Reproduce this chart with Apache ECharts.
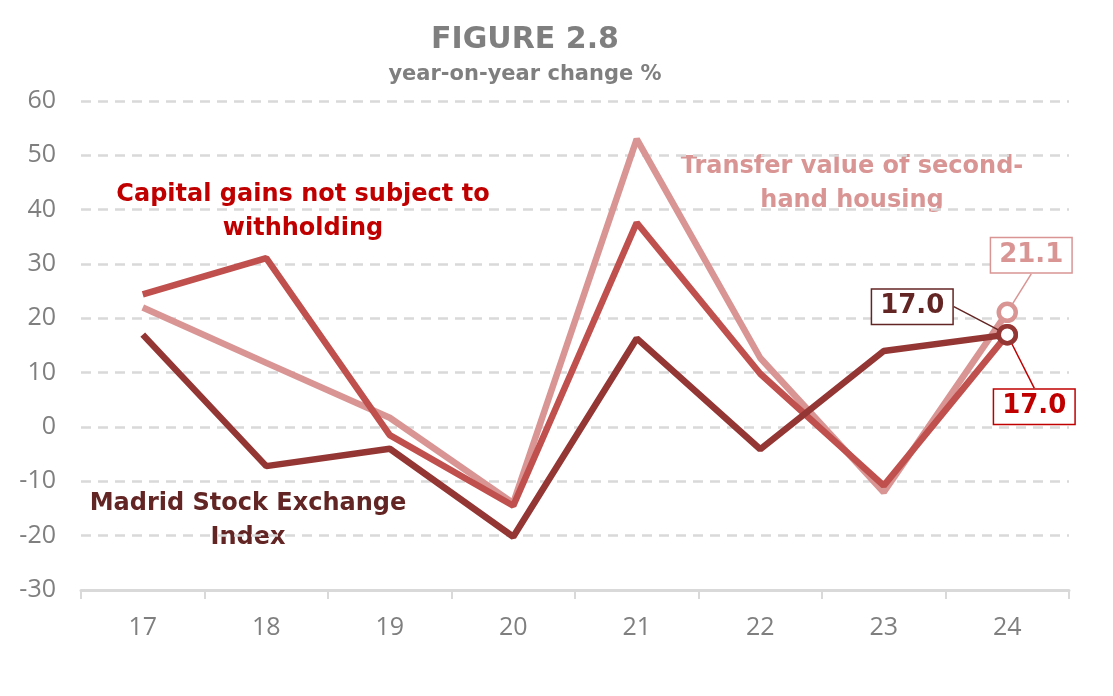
<!DOCTYPE html>
<html><head><meta charset="utf-8">
<script src="https://cdn.jsdelivr.net/npm/echarts@6/dist/echarts.min.js"></script>
<style>html,body{margin:0;padding:0;background:#fff}#c{width:1113px;height:696px}</style>
</head><body><div id="c"></div>
<script>
const categories = ['17','18','19','20','21','22','23','24'];
const madrid = [17.0, -7.2, -4.0, -20.2, 16.3, -4.1, 14.0, 17.0];
const capitalGains = [24.4, 31.1, -1.5, -14.5, 37.6, 9.8, -10.8, 17.0];
const housing = [22.0, 11.8, 1.7, -14.0, 53.0, 12.7, -12.0, 21.1];
const yTicks = {min: -30, max: 60, interval: 10};

const cDark = '#943634', cMid = '#c0504d', cLight = '#d99594';
const font = 'DejaVu Sans, Verdana, sans-serif';
const tickFont = '"Open Sans", "DejaVu Sans", sans-serif';

function lastOnly(arr, color, labelColor) {
  return arr.map((v, i) => {
    if (i !== arr.length - 1) return {value: v, symbol: 'none', label: {show: false}};
    return {
      value: v,
      symbol: 'circle', symbolSize: 17,
      itemStyle: {color: '#fff', borderColor: color, borderWidth: 4.5},
      label: {
        show: true, position: 'inside', formatter: v.toFixed(1), color: labelColor,
        fontFamily: font, fontWeight: 'bold', fontSize: 26,
        backgroundColor: '#fff', borderColor: labelColor, borderWidth: 1.5,
        padding: [5, 8, 3, 8]
      }
    };
  });
}

function mkSeries(name, data, color, labelColor, dx, dy, z) {
  return {
    name, type: 'line', data: lastOnly(data, color, labelColor),
    showAllSymbol: true, z,
    lineStyle: {color, width: 6.5}, itemStyle: {color},
    labelLayout: {dx, dy, hideOverlap: false},
    labelLine: {show: true, lineStyle: {color: labelColor, width: 1.5}}
  };
}

const chart = echarts.init(document.getElementById('c'));
chart.setOption({
  animation: false,
  title: [
    {text: 'FIGURE 2.8', left: 520, top: 20, textAlign: 'center',
     textStyle: {fontFamily: font, fontWeight: 'bold', fontSize: 30, color: '#7f7f7f'}},
    {text: 'year-on-year change %', left: 520, top: 59, textAlign: 'center',
     textStyle: {fontFamily: font, fontWeight: 'bold', fontSize: 21, color: '#7f7f7f'}}
  ],
  grid: {left: 81, right: 44, top: 101, bottom: 106},
  xAxis: {
    type: 'category', data: categories, boundaryGap: true,
    axisLine: {onZero: false, lineStyle: {color: '#d9d9d9', width: 3}},
    axisTick: {show: true, length: 9, lineStyle: {color: '#d9d9d9', width: 2}},
    axisLabel: {color: '#7f7f7f', fontFamily: tickFont, fontSize: 25, margin: 25}
  },
  yAxis: {
    type: 'value', min: yTicks.min, max: yTicks.max, interval: yTicks.interval,
    axisLine: {show: false}, axisTick: {show: false},
    axisLabel: {color: '#7f7f7f', fontFamily: tickFont, fontSize: 25, margin: 25},
    splitLine: {lineStyle: {color: '#d9d9d9', width: 2.5, type: [10, 7]}}
  },
  series: [
    mkSeries('Transfer value of second-hand housing', housing, cLight, cLight, 24, -57, 2),
    mkSeries('Capital gains not subject to withholding', capitalGains, cMid, '#c00000', 27, 72, 3),
    mkSeries('Madrid Stock Exchange Index', madrid, cDark, '#632523', -95, -28, 4)
  ],
  graphic: [
    {type: 'text', x: 303, y: 178, style: {text: 'Capital gains not subject to\nwithholding', align: 'center', fill: '#c00000', font: 'bold 24px ' + font, lineHeight: 34}},
    {type: 'text', x: 852, y: 150, style: {text: 'Transfer value of second-\nhand housing', align: 'center', fill: cLight, font: 'bold 24px ' + font, lineHeight: 34}},
    {type: 'text', x: 248, y: 487, style: {text: 'Madrid Stock Exchange\nIndex', align: 'center', fill: '#632523', font: 'bold 24px ' + font, lineHeight: 34}}
  ]
});
</script></body></html>
